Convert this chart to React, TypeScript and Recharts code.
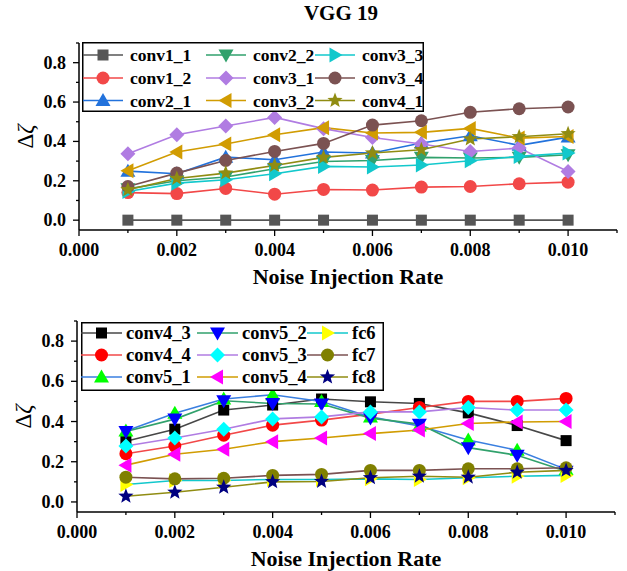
import { Label, Legend, Line, LineChart, XAxis, YAxis } from "recharts";

const noiseRates = [0.001, 0.002, 0.003, 0.004, 0.005, 0.006, 0.007, 0.008, 0.009, 0.01];

// upper panel
const conv1_1 = [0, 0, 0, 0, 0, 0, 0, 0, 0, 0];
const conv1_2 = [0.14, 0.135, 0.161, 0.132, 0.156, 0.153, 0.168, 0.171, 0.185, 0.193];
const conv2_1 = [0.249, 0.236, 0.32, 0.307, 0.346, 0.341, 0.392, 0.429, 0.38, 0.422];
const conv2_2 = [0.159, 0.2, 0.219, 0.261, 0.298, 0.303, 0.319, 0.316, 0.319, 0.332];
const conv3_1 = [0.337, 0.434, 0.478, 0.522, 0.465, 0.42, 0.387, 0.349, 0.366, 0.247];
const conv3_2 = [0.251, 0.346, 0.387, 0.434, 0.47, 0.443, 0.446, 0.466, 0.417, 0.425];
const conv3_3 = [0.146, 0.188, 0.205, 0.236, 0.273, 0.27, 0.28, 0.302, 0.324, 0.341];
const conv3_4 = [0.171, 0.239, 0.303, 0.349, 0.39, 0.483, 0.505, 0.548, 0.566, 0.575];
const conv4_1 = [0.154, 0.212, 0.239, 0.278, 0.319, 0.341, 0.358, 0.412, 0.424, 0.439];

// lower panel
const conv4_3 = [0.302, 0.362, 0.457, 0.482, 0.512, 0.498, 0.49, 0.443, 0.38, 0.305];
const conv4_4 = [0.24, 0.278, 0.332, 0.382, 0.407, 0.437, 0.47, 0.5, 0.5, 0.515];
const conv5_1 = [0.353, 0.441, 0.512, 0.533, 0.5, 0.423, 0.378, 0.308, 0.257, 0.162];
const conv5_2 = [0.35, 0.412, 0.503, 0.49, 0.487, 0.417, 0.387, 0.27, 0.232, 0.153];
const conv5_3 = [0.278, 0.318, 0.362, 0.413, 0.423, 0.448, 0.448, 0.47, 0.457, 0.457];
const conv5_4 = [0.183, 0.237, 0.262, 0.3, 0.318, 0.34, 0.358, 0.39, 0.398, 0.4];
const fc6 = [0.087, 0.107, 0.107, 0.112, 0.112, 0.115, 0.112, 0.12, 0.128, 0.132];
const fc7 = [0.123, 0.115, 0.118, 0.132, 0.137, 0.157, 0.157, 0.165, 0.165, 0.17];
const fc8 = [0.028, 0.048, 0.073, 0.1, 0.102, 0.12, 0.128, 0.123, 0.148, 0.157];

const xTicks = [0, 0.001, 0.002, 0.003, 0.004, 0.005, 0.006, 0.007, 0.008, 0.009, 0.01, 0.011];
const yTicks = [0, 0.1, 0.2, 0.3, 0.4, 0.5, 0.6, 0.7, 0.8, 0.9];

const FONT = "'Liberation Serif', 'Times New Roman', serif";

type Shape = "square" | "circle" | "up" | "down" | "left" | "right" | "diamond" | "star";
type Series = { key: string; values: number[]; stroke: string; fill: string; shape: Shape };

const topSeries: Series[] = [
  { key: "conv1_1", values: conv1_1, stroke: "#565656", fill: "#565656", shape: "square" },
  { key: "conv1_2", values: conv1_2, stroke: "#f24848", fill: "#f24848", shape: "circle" },
  { key: "conv2_1", values: conv2_1, stroke: "#2272dc", fill: "#2272dc", shape: "up" },
  { key: "conv2_2", values: conv2_2, stroke: "#31a16c", fill: "#31a16c", shape: "down" },
  { key: "conv3_1", values: conv3_1, stroke: "#b07ce2", fill: "#b07ce2", shape: "diamond" },
  { key: "conv3_2", values: conv3_2, stroke: "#d19c02", fill: "#d19c02", shape: "left" },
  { key: "conv3_3", values: conv3_3, stroke: "#12c8cc", fill: "#12c8cc", shape: "right" },
  { key: "conv3_4", values: conv3_4, stroke: "#7b5252", fill: "#7b5252", shape: "circle" },
  { key: "conv4_1", values: conv4_1, stroke: "#908c12", fill: "#908c12", shape: "star" },
];

const bottomSeries: Series[] = [
  { key: "conv4_3", values: conv4_3, stroke: "#474747", fill: "#000000", shape: "square" },
  { key: "conv4_4", values: conv4_4, stroke: "#f24848", fill: "#ff0000", shape: "circle" },
  { key: "conv5_1", values: conv5_1, stroke: "#3a7fe0", fill: "#00ff00", shape: "up" },
  { key: "conv5_2", values: conv5_2, stroke: "#31a16c", fill: "#0000ff", shape: "down" },
  { key: "conv5_3", values: conv5_3, stroke: "#b07ce2", fill: "#00ffff", shape: "diamond" },
  { key: "conv5_4", values: conv5_4, stroke: "#d19c02", fill: "#ff00ff", shape: "left" },
  { key: "fc6", values: fc6, stroke: "#12c8cc", fill: "#ffff00", shape: "right" },
  { key: "fc7", values: fc7, stroke: "#7b5252", fill: "#808000", shape: "circle" },
  { key: "fc8", values: fc8, stroke: "#908c12", fill: "#000080", shape: "star" },
];

function buildRows(series: Series[]) {
  return noiseRates.map((rate, i) => {
    const row: Record<string, number> = { rate };
    series.forEach((s) => {
      row[s.key] = s.values[i];
    });
    return row;
  });
}

function starPoints(cx: number, cy: number, outer: number, inner: number) {
  const pts: string[] = [];
  for (let i = 0; i < 10; i++) {
    const r = i % 2 === 0 ? outer : inner;
    const a = -Math.PI / 2 + (i * Math.PI) / 5;
    pts.push(`${cx + r * Math.cos(a)},${cy + r * Math.sin(a)}`);
  }
  return pts.join(" ");
}

function Marker({ shape, cx, cy, fill }: { shape: Shape; cx: number; cy: number; fill: string }) {
  if (cx == null || cy == null) return null;
  switch (shape) {
    case "square":
      return <rect x={cx - 5.5} y={cy - 5.5} width={11} height={11} fill={fill} />;
    case "circle":
      return <circle cx={cx} cy={cy} r={6.5} fill={fill} />;
    case "up":
      return <polygon points={`${cx},${cy - 7.5} ${cx + 7.5},${cy + 5.5} ${cx - 7.5},${cy + 5.5}`} fill={fill} />;
    case "down":
      return <polygon points={`${cx},${cy + 7.5} ${cx + 7.5},${cy - 5.5} ${cx - 7.5},${cy - 5.5}`} fill={fill} />;
    case "left":
      return <polygon points={`${cx - 7.5},${cy} ${cx + 5.5},${cy - 7.5} ${cx + 5.5},${cy + 7.5}`} fill={fill} />;
    case "right":
      return <polygon points={`${cx + 7.5},${cy} ${cx - 5.5},${cy - 7.5} ${cx - 5.5},${cy + 7.5}`} fill={fill} />;
    case "diamond":
      return <polygon points={`${cx},${cy - 7.5} ${cx + 7.5},${cy} ${cx},${cy + 7.5} ${cx - 7.5},${cy}`} fill={fill} />;
    case "star":
      return <polygon points={starPoints(cx, cy, 8, 3.4)} fill={fill} />;
  }
  return null;
}

function XTick(props: any) {
  const { x, y, payload } = props;
  const v = payload.value as number;
  const major = Math.round(v * 1000) % 2 === 0;
  return (
    <g>
      <line x1={x} x2={x} y1={y} y2={y + (major ? 6 : 3)} stroke="#000" strokeWidth={1.3} />
      {major && (
        <text x={x} y={y + 26} textAnchor="middle" fontFamily={FONT} fontWeight="bold" fontSize={18} fill="#000">
          {v.toFixed(3)}
        </text>
      )}
    </g>
  );
}

function YTick(props: any) {
  const { x, y, payload } = props;
  const v = payload.value as number;
  const major = Math.round(v * 10) % 2 === 0;
  return (
    <g>
      <line x1={x} x2={x - (major ? 6 : 3)} y1={y} y2={y} stroke="#000" strokeWidth={1.3} />
      {major && (
        <text x={x - 13} y={y} textAnchor="end" dominantBaseline="central" fontFamily={FONT} fontWeight="bold" fontSize={18} fill="#000">
          {v.toFixed(1)}
        </text>
      )}
    </g>
  );
}

function xTitle(props: any) {
  const vb = props.viewBox;
  return (
    <text x={vb.x + vb.width / 2} y={vb.y + 54} textAnchor="middle" fontFamily={FONT} fontWeight="bold" fontSize={22} fill="#000">
      Noise Injection Rate
    </text>
  );
}

function yTitle(props: any) {
  const vb = props.viewBox;
  const cx = vb.x + 6;
  const cy = vb.y + vb.height / 2;
  return (
    <text x={cx} y={cy} transform={`rotate(-90, ${cx}, ${cy})`} textAnchor="middle" dominantBaseline="central" fontFamily={FONT} fontSize={23} fill="#000">
      Δ<tspan fontStyle="italic">ζ</tspan>
    </text>
  );
}

type LegendLayout = {
  width: number;
  height: number;
  cols: number[];
  rows: number[];
  lineLen: number;
  textGap: number;
  fontSize: number;
};

function LegendBox({ series, layout }: { series: Series[]; layout: LegendLayout }) {
  const { width, height, cols, rows, lineLen, textGap, fontSize } = layout;
  return (
    <svg width={width} height={height} style={{ display: "block" }}>
      <rect x={0.75} y={0.75} width={width - 1.5} height={height - 1.5} fill="#fff" stroke="#000" strokeWidth={1.5} />
      {series.map((s, i) => {
        const x0 = cols[Math.floor(i / 3)];
        const y0 = rows[i % 3];
        return (
          <g key={s.key}>
            <line x1={x0} x2={x0 + lineLen} y1={y0} y2={y0} stroke={s.stroke} strokeWidth={1.6} />
            <Marker shape={s.shape} cx={x0 + lineLen / 2} cy={y0} fill={s.fill} />
            <text x={x0 + textGap} y={y0} dominantBaseline="central" fontFamily={FONT} fontWeight="bold" fontSize={fontSize} fill="#000">
              {s.key}
            </text>
          </g>
        );
      })}
    </svg>
  );
}

type PanelProps = {
  series: Series[];
  height: number;
  margin: { top: number; right: number; bottom: number; left: number };
  xAxisHeight: number;
  legendPos: { left: number; top: number };
  legendLayout: LegendLayout;
};

function Panel({ series, height, margin, xAxisHeight, legendPos, legendLayout }: PanelProps) {
  const rows = buildRows(series);
  return (
    <LineChart width={627} height={height} data={rows} margin={margin}>
      <XAxis
        dataKey="rate"
        type="number"
        domain={[0, 0.011]}
        ticks={xTicks}
        interval={0}
        height={xAxisHeight}
        tickSize={0}
        tickMargin={0}
        tickLine={false}
        tick={<XTick />}
        axisLine={{ stroke: "#000", strokeWidth: 1.5 }}
      >
        <Label content={xTitle} />
      </XAxis>
      <YAxis
        type="number"
        domain={[-0.05, 0.9]}
        ticks={yTicks}
        interval={0}
        width={60}
        tickSize={0}
        tickMargin={0}
        tickLine={false}
        tick={<YTick />}
        allowDataOverflow
        axisLine={{ stroke: "#000", strokeWidth: 1.5 }}
      >
        <Label content={yTitle} />
      </YAxis>
      <Legend
        layout="horizontal"
        verticalAlign="middle"
        align="center"
        width={legendLayout.width}
        height={legendLayout.height}
        wrapperStyle={{ position: "absolute", left: legendPos.left, top: legendPos.top, width: legendLayout.width, height: legendLayout.height }}
        content={() => <LegendBox series={series} layout={legendLayout} />}
      />
      {series.map((s) => (
        <Line
          key={s.key}
          type="linear"
          dataKey={s.key}
          stroke={s.stroke}
          strokeWidth={1.6}
          isAnimationActive={false}
          activeDot={false}
          dot={(p: any) => <Marker key={`${s.key}-${p.index}`} shape={s.shape} cx={p.cx} cy={p.cy} fill={s.fill} />}
        />
      ))}
    </LineChart>
  );
}

export default function App() {
  return (
    <div style={{ position: "absolute", left: 0, top: 0, width: 627, height: 571, background: "#fff" }}>
      <div
        style={{
          position: "absolute",
          left: 241,
          top: 0,
          width: 200,
          lineHeight: "26px",
          textAlign: "center",
          fontFamily: FONT,
          fontWeight: "bold",
          fontSize: 21,
        }}
      >
        VGG 19
      </div>
      <div style={{ position: "absolute", left: 0, top: 0 }}>
        <Panel
          series={topSeries}
          height={290}
          margin={{ top: 43, right: 10, bottom: 0, left: 19 }}
          xAxisHeight={60}
          legendPos={{ left: 82, top: 42 }}
          legendLayout={{ width: 342, height: 70, cols: [1, 124, 233], rows: [13, 36, 58.5], lineLen: 40, textGap: 47, fontSize: 17.5 }}
        />
      </div>
      <div style={{ position: "absolute", left: 0, top: 290 }}>
        <Panel
          series={bottomSeries}
          height={281}
          margin={{ top: 31, right: 12, bottom: 0, left: 17 }}
          xAxisHeight={59}
          legendPos={{ left: 81, top: 31.5 }}
          legendLayout={{ width: 303, height: 69, cols: [0, 116, 226], rows: [11, 33, 55], lineLen: 41, textGap: 45, fontSize: 18.5 }}
        />
      </div>
    </div>
  );
}
